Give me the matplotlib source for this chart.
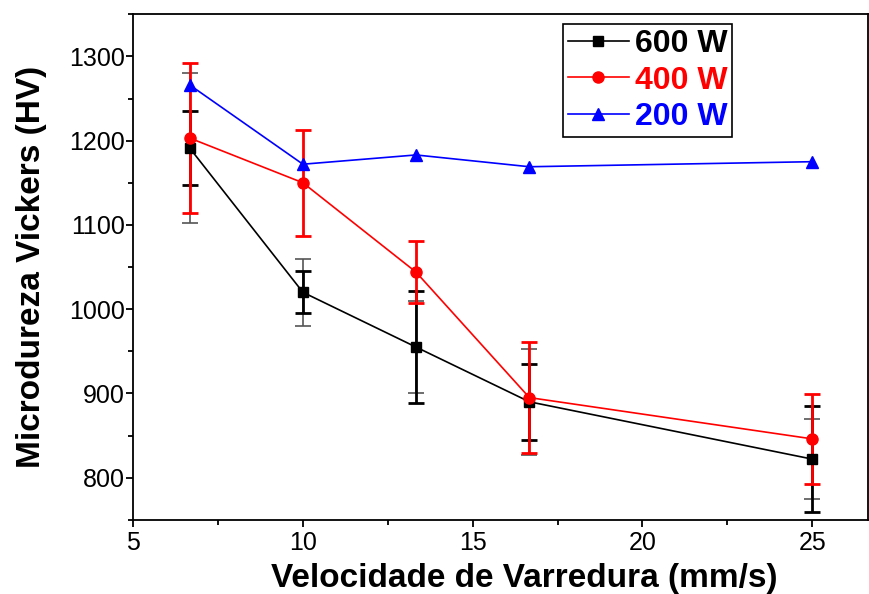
import matplotlib
matplotlib.use('Agg')
import matplotlib.pyplot as plt
from matplotlib.ticker import MultipleLocator

plt.rcParams['font.family'] = ['Liberation Sans', 'DejaVu Sans']

# scanning speed (mm/s)
velocidade = [6.67, 10, 13.33, 16.67, 25]

# hardness HV per laser power
hv_600 = [1191, 1020, 955, 890, 822]
hv_400 = [1203, 1150, 1044, 895, 846]
hv_200 = [1266, 1172, 1183, 1169, 1175]

# error bars (two sets for 600 W as in the original)
err_600_a = [44, 25, 67, 45, 63]
err_600_b = [89, 40, 55, 63, 47]
err_400 = [89, 63, 37, 66, 53]

labels = ['600 W', '400 W', '200 W']
colors = ['black', 'red', 'blue']

fig = plt.figure(figsize=(8.7, 5.94), dpi=100)
ax = fig.add_axes([0.153, 0.125, 0.845, 0.851])

# thin grey error bars of 600 W
ax.errorbar(velocidade, hv_600, yerr=err_600_b, fmt='none', ecolor='#555555',
            elinewidth=1.2, capsize=6, capthick=1.2, zorder=2)
ax.errorbar(velocidade, hv_600, yerr=err_600_a, fmt='none', ecolor='black',
            elinewidth=2, capsize=6, capthick=2, zorder=2)
ax.errorbar(velocidade, hv_400, yerr=err_400, fmt='none', ecolor='red',
            elinewidth=2, capsize=6, capthick=2, zorder=3)

ax.plot(velocidade, hv_600, '-s', color=colors[0], lw=1.2, ms=7, label=labels[0], zorder=4)
ax.plot(velocidade, hv_400, '-o', color=colors[1], lw=1.2, ms=8, label=labels[1], zorder=5)
ax.plot(velocidade, hv_200, '-^', color=colors[2], lw=1.2, ms=8, label=labels[2], zorder=6)

ax.set_xlim(5, 26.65)
ax.set_ylim(750, 1350)
ax.xaxis.set_major_locator(MultipleLocator(5))
ax.xaxis.set_minor_locator(MultipleLocator(2.5))
ax.yaxis.set_major_locator(MultipleLocator(100))
ax.yaxis.set_minor_locator(MultipleLocator(50))
ax.tick_params(which='major', direction='out', length=5, width=1.3, labelsize=18)
ax.tick_params(which='minor', direction='out', length=3.5, width=1.3)
ax.tick_params(axis='x', pad=3)
ax.tick_params(axis='y', pad=1)
for s in ax.spines.values():
    s.set_linewidth(1.3)

ax.set_xlabel('Velocidade de Varredura (mm/s)', fontsize=24, fontweight='bold', labelpad=4)
ax.set_ylabel('Microdureza Vickers (HV)', fontsize=24, fontweight='bold', labelpad=16)
ax.xaxis.set_label_coords(0.532, -0.085)

leg = ax.legend(loc='upper left', bbox_to_anchor=(0.585, 0.98),
                prop={'weight': 'bold', 'size': 23}, handlelength=1.9,
                handletextpad=0.2, borderpad=0.15, borderaxespad=0,
                labelspacing=0.2, fancybox=False, framealpha=1, edgecolor='black')
leg.get_frame().set_linewidth(1.2)
for txt, c in zip(leg.get_texts(), colors):
    txt.set_color(c)

plt.savefig('out.png', dpi=100)
plt.close()
